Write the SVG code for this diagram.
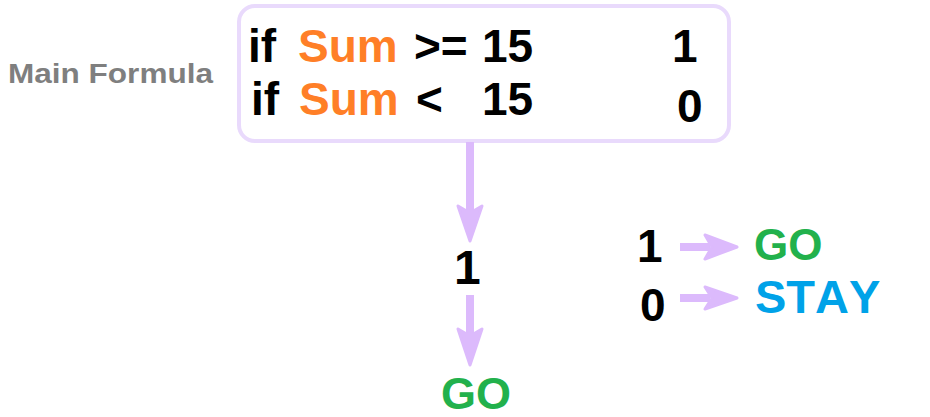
<svg xmlns="http://www.w3.org/2000/svg" width="930" height="417" viewBox="0 0 930 417">
<defs>
<style>
.t{font-family:"Liberation Sans",Arial,sans-serif;font-weight:bold;font-kerning:none;}
.blk{fill:#000;}
.org{fill:#ff7f27;}
.grn{fill:#22b14c;}
.blu{fill:#00a2e8;}
.shaft{stroke:#dcbafc;stroke-width:8;fill:none;}
.head{fill:#dcbafc;stroke:#dcbafc;stroke-width:3;stroke-linejoin:round;}
</style>
</defs>
<rect width="930" height="417" fill="#fff"/>
<g id="label-main">
<text class="t" x="8" y="83" font-size="27" fill="#7f7f7f" textLength="205" lengthAdjust="spacingAndGlyphs">Main Formula</text>
</g>
<g id="formula">
<rect x="239" y="6" width="490" height="135" rx="16" fill="#fff" stroke="#e9dafc" stroke-width="4"/>
<text class="t blk" x="248" y="62" font-size="46">if</text>
<text class="t org" x="298" y="62" font-size="46">Sum</text>
<text class="t blk" x="414" y="62" font-size="46">&gt;=</text>
<text class="t blk" x="482" y="62" font-size="46">15</text>
<text class="t blk" x="672" y="62" font-size="46">1</text>
<text class="t blk" x="251" y="115" font-size="46">if</text>
<text class="t org" x="299" y="115" font-size="46">Sum</text>
<text class="t blk" x="416" y="115" font-size="46">&lt;</text>
<text class="t blk" x="482" y="115" font-size="46">15</text>
<text class="t blk" x="677" y="122" font-size="46">0</text>
</g>
<g id="connectors">
<line class="shaft" x1="470" y1="142" x2="470" y2="212"/>
<polygon class="head" points="458,206 470,213 482,206 470,241"/>
<line class="shaft" x1="470" y1="295" x2="470" y2="335"/>
<polygon class="head" points="458,329 470,336 482,329 470,365"/>
<line class="shaft" x1="680" y1="247" x2="710" y2="247"/>
<polygon class="head" points="705,235 712,247 705,259 737,247"/>
<line class="shaft" x1="680" y1="298" x2="710" y2="298"/>
<polygon class="head" points="705,287 712,298 705,309 737,298"/>
</g>
<g id="mid-1"><text class="t blk" x="454" y="284" font-size="48">1</text></g>
<g id="go-bottom"><text class="t grn" x="441" y="409" font-size="45">GO</text></g>
<g id="legend-1"><text class="t blk" x="637" y="262" font-size="46">1</text></g>
<g id="legend-go"><text class="t grn" x="754" y="260" font-size="44">GO</text></g>
<g id="legend-0"><text class="t blk" x="640" y="321" font-size="46">0</text></g>
<g id="legend-stay"><text class="t blu" x="755" y="313" font-size="47">STAY</text></g>
</svg>
